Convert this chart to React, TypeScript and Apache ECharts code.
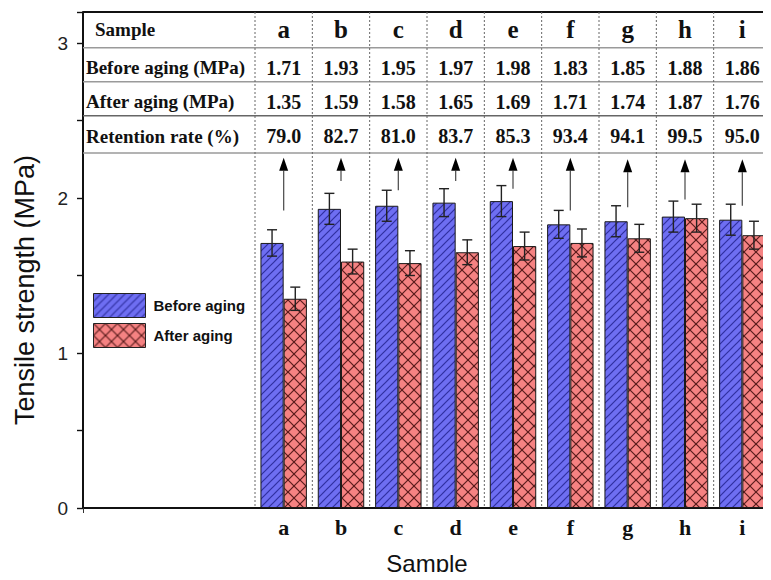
import React, { useEffect, useRef } from 'react';
import * as echarts from 'echarts';

// ---- data ----
const padCategories = ['_p1', '_p2', '_p3'];
const samples = ['a', 'b', 'c', 'd', 'e', 'f', 'g', 'h', 'i'];
const beforeAging = [1.71, 1.93, 1.95, 1.97, 1.98, 1.83, 1.85, 1.88, 1.86];
const afterAging = [1.35, 1.59, 1.58, 1.65, 1.69, 1.71, 1.74, 1.87, 1.76];
const retentionRate = ['79.0', '82.7', '81.0', '83.7', '85.3', '93.4', '94.1', '99.5', '95.0'];
const beforeErr = [0.085, 0.1, 0.1, 0.09, 0.1, 0.09, 0.1, 0.1, 0.1];
const afterErr = [0.075, 0.08, 0.08, 0.08, 0.09, 0.09, 0.09, 0.09, 0.09];
const arrowFrom = [1.92, 2.11, 2.05, 2.11, 2.06, 1.92, 1.94, 1.99, 1.95];
const arrowTo = [2.26, 2.26, 2.26, 2.26, 2.26, 2.26, 2.25, 2.25, 2.25];
const rowLabels = ['Sample', 'Before aging (MPa)', 'After aging (MPa)', 'Retention rate (%)'];
const rowCenters = [3.09, 2.84, 2.62, 2.4];
const rowLines = [2.97, 2.75, 2.53, 2.29];
const yMax = 3.2;

const categories = [...padCategories, ...samples];
const offset = padCategories.length;

const SERIF = '"Liberation Serif", "Times New Roman", serif';
const SANS = '"Liberation Sans", Arial, sans-serif';
const GAP = 0.19;

function makePattern(kind: 'hatch' | 'cross') {
  const s = kind === 'hatch' ? 8 : 12;
  const c = document.createElement('canvas');
  c.width = s;
  c.height = s;
  const ctx = c.getContext('2d')!;
  ctx.fillStyle = kind === 'hatch' ? '#6e6ef2' : '#f58282';
  ctx.fillRect(0, 0, s, s);
  ctx.strokeStyle = kind === 'hatch' ? '#3030a0' : '#5a1c1c';
  ctx.lineWidth = kind === 'hatch' ? 1.2 : 1.2;
  const seg = (x1: number, y1: number, x2: number, y2: number) => {
    ctx.beginPath();
    ctx.moveTo(x1, y1);
    ctx.lineTo(x2, y2);
    ctx.stroke();
  };
  seg(-1, s + 1, s + 1, -1);
  seg(-1, 1, 1, -1);
  seg(s - 1, s + 1, s + 1, s - 1);
  if (kind === 'cross') {
    seg(-1, -1, s + 1, s + 1);
    seg(-1, s - 1, 1, s + 1);
    seg(s - 1, -1, s + 1, 1);
  }
  return { image: c, repeat: 'repeat', imageWidth: s, imageHeight: s } as any;
}

export default function App() {
  const ref = useRef<HTMLDivElement>(null);
  useEffect(() => {
    if (!ref.current) return;
    const chart = echarts.init(ref.current, null, { renderer: 'svg' });
    const bluePat = makePattern('hatch');
    const redPat = makePattern('cross');

    const padNull = padCategories.map(() => '-');
    const errRender = (sign: number) => (params: any, api: any) => {
      const idx = api.value(0);
      const v = api.value(1);
      const e = api.value(2);
      const catW = api.size([1, 0])[0];
      const barW = (catW * (1 - GAP)) / 2;
      const cx = api.coord([idx, 0])[0] + (sign * barW) / 2;
      const yt = api.coord([idx, v + e])[1];
      const yb = api.coord([idx, v - e])[1];
      const cap = 5;
      const st = { stroke: '#222', lineWidth: 1.4 };
      return {
        type: 'group',
        children: [
          { type: 'line', shape: { x1: cx, y1: yt, x2: cx, y2: yb }, style: st },
          { type: 'line', shape: { x1: cx - cap, y1: yt, x2: cx + cap, y2: yt }, style: st },
          { type: 'line', shape: { x1: cx - cap, y1: yb, x2: cx + cap, y2: yb }, style: st },
        ],
      };
    };

    const option: any = {
      animation: false,
      backgroundColor: '#fff',
      grid: { left: 83, top: 12, width: 700, height: 501, containLabel: false },
      legend: {
        data: ['Before aging', 'After aging'],
        orient: 'vertical',
        left: 93,
        top: 293,
        padding: 0,
        itemWidth: 52,
        itemHeight: 24,
        itemGap: 5,
        icon: 'rect',
        itemStyle: { borderColor: '#222', borderWidth: 1 },
        textStyle: { fontFamily: SANS, fontSize: 15, fontWeight: 'bold', color: '#111', padding: [0, 0, 0, 3] },
      },
      xAxis: {
        type: 'category',
        data: categories,
        boundaryGap: true,
        axisLine: { show: true, lineStyle: { color: '#111', width: 2 } },
        axisTick: { show: true, interval: (i: number) => i === offset, length: 5, lineStyle: { color: '#333' } },
        axisLabel: {
          interval: 0,
          formatter: (v: string) => (v.startsWith('_') ? '' : v),
          fontFamily: SERIF,
          fontWeight: 'bold',
          fontSize: 22,
          color: '#111',
          margin: 8,
        },
        name: 'Sample',
        nameLocation: 'middle',
        nameGap: 43,
        nameTextStyle: { fontFamily: SANS, fontSize: 24, color: '#111' },
        splitLine: { show: false },
      },
      yAxis: {
        type: 'value',
        min: 0,
        max: yMax,
        interval: 0.5,
        axisLine: { show: true, lineStyle: { color: '#111', width: 2 } },
        axisTick: { show: true, inside: false, length: 6, lineStyle: { color: '#111', width: 1.4 } },
        axisLabel: {
          formatter: (v: number) => (Math.abs(v - Math.round(v)) < 1e-9 && v <= 3 ? String(Math.round(v)) : ''),
          fontFamily: SANS,
          fontSize: 19,
          color: '#222',
          margin: 15,
        },
        splitLine: { show: false },
      },
      graphic: [
        {
          type: 'text',
          x: 25,
          y: 290,
          rotation: Math.PI / 2,
          style: {
            text: 'Tensile strength (MPa)',
            font: `27px ${SANS}`,
            fill: '#111',
            align: 'center',
            verticalAlign: 'middle',
          },
        },
      ],
      series: [
        {
          name: 'tableFrame',
          type: 'custom',
          z: 1,
          silent: true,
          data: [[0, 0]],
          renderItem: (params: any, api: any) => {
            const cs = params.coordSys;
            const children: any[] = [];
            children.push({
              type: 'line',
              shape: { x1: cs.x, y1: cs.y, x2: cs.x + cs.width, y2: cs.y },
              style: { stroke: '#111', lineWidth: 2.2 },
            });
            rowLines.forEach((v, k) => {
              const y = api.coord([0, v])[1];
              children.push({
                type: 'line',
                shape: { x1: cs.x, y1: y, x2: cs.x + cs.width, y2: y },
                style: { stroke: k === 2 ? '#666' : '#9a9a9a', lineWidth: 1.5 },
              });
            });
            rowLabels.forEach((t, k) => {
              const y = api.coord([0, rowCenters[k]])[1];
              children.push({
                type: 'text',
                x: cs.x + (k === 0 ? 12 : 3),
                y,
                style: {
                  text: t,
                  fontFamily: SERIF,
                  fontWeight: 'bold',
                  fontSize: 19,
                  fill: '#111',
                  align: 'left',
                  verticalAlign: 'middle',
                },
              });
            });
            return { type: 'group', children };
          },
        },
        {
          name: 'tableCells',
          type: 'custom',
          z: 1,
          silent: true,
          data: samples.map((_, i) => [i + offset, 0]),
          renderItem: (params: any, api: any) => {
            const i = params.dataIndex;
            const idx = api.value(0);
            const cs = params.coordSys;
            const catW = api.size([1, 0])[0];
            const x = api.coord([idx, 0])[0];
            const texts = [samples[i], beforeAging[i].toFixed(2), afterAging[i].toFixed(2), retentionRate[i]];
            const children: any[] = [
              {
                type: 'line',
                shape: { x1: x - catW / 2, y1: cs.y, x2: x - catW / 2, y2: cs.y + cs.height },
                style: { stroke: '#666', lineWidth: 1, lineDash: [2, 2] },
              },
            ];
            texts.forEach((t, r) => {
              children.push({
                type: 'text',
                x,
                y: api.coord([idx, rowCenters[r]])[1],
                style: {
                  text: t,
                  fontFamily: SERIF,
                  fontWeight: 'bold',
                  fontSize: r === 0 ? 25 : 20,
                  fill: '#111',
                  align: 'center',
                  verticalAlign: 'middle',
                },
              });
            });
            return { type: 'group', children };
          },
        },
        {
          name: 'Before aging',
          type: 'bar',
          z: 2,
          data: [...padNull, ...beforeAging],
          barGap: '0%',
          barCategoryGap: `${GAP * 100}%`,
          itemStyle: { color: bluePat, borderColor: '#1a1a1a', borderWidth: 1 },
        },
        {
          name: 'After aging',
          type: 'bar',
          z: 2,
          data: [...padNull, ...afterAging],
          barGap: '0%',
          barCategoryGap: `${GAP * 100}%`,
          itemStyle: { color: redPat, borderColor: '#1a1a1a', borderWidth: 1 },
        },
        {
          name: 'beforeErr',
          type: 'custom',
          z: 4,
          silent: true,
          data: beforeAging.map((v, i) => [i + offset, v, beforeErr[i]]),
          renderItem: errRender(-1),
        },
        {
          name: 'afterErr',
          type: 'custom',
          z: 4,
          silent: true,
          data: afterAging.map((v, i) => [i + offset, v, afterErr[i]]),
          renderItem: errRender(1),
        },
        {
          name: 'arrows',
          type: 'custom',
          z: 4,
          silent: true,
          data: samples.map((_, i) => [i + offset, arrowFrom[i], arrowTo[i]]),
          renderItem: (params: any, api: any) => {
            const idx = api.value(0);
            const x = api.coord([idx, 0])[0];
            const yb = api.coord([idx, api.value(1)])[1];
            const yt = api.coord([idx, api.value(2)])[1];
            const head = 13;
            return {
              type: 'group',
              children: [
                {
                  type: 'line',
                  shape: { x1: x, y1: yb, x2: x, y2: yt + head },
                  style: { stroke: '#555', lineWidth: 1.3 },
                },
                {
                  type: 'polygon',
                  shape: { points: [[x, yt], [x - 4.5, yt + head], [x + 4.5, yt + head]] },
                  style: { fill: '#000' },
                },
              ],
            };
          },
        },
      ],
    };
    chart.setOption(option);
    return () => chart.dispose();
  }, []);
  return <div ref={ref} style={{ width: 771, height: 580, margin: -8 }} />;
}
